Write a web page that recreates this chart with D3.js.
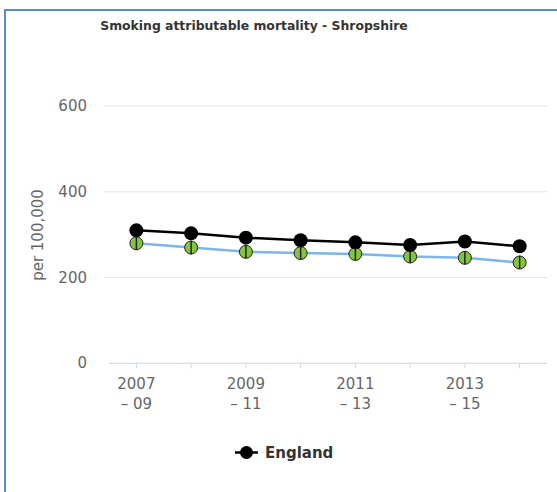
<!DOCTYPE html>
<html>
<head>
<meta charset="utf-8">
<script src="https://cdn.jsdelivr.net/npm/d3@7"></script>
<style>
  body { margin: 0; background: #fff; }
  svg text { font-family: "DejaVu Sans", sans-serif; }
</style>
</head>
<body>
<div id="chart"></div>
<script>
let w = 557;
let h = 492;

let periods = ['2007 – 09', '2008 – 10', '2009 – 11', '2010 – 12', '2011 – 13', '2012 – 14', '2013 – 15', '2014 – 16'];
let england = [310, 303, 293, 287, 282, 276, 284, 273];
let shropshire = [280, 270, 260, 257, 255, 249, 246, 235];
let shropLower = [264, 254, 245, 242, 240, 234, 231, 220];
let shropUpper = [296, 286, 276, 273, 271, 265, 262, 251];
let yTicks = [0, 200, 400, 600];

let svg = d3.select('#chart').
append('svg').
attr('width', w).
attr('height', h);

// outer box edges (top and left only are visible)
svg.append('line').attr('x1', 5).attr('x2', w).attr('y1', 10).attr('y2', 10).
style('stroke', '#5b8bd1').style('stroke-width', 2);
svg.append('line').attr('x1', 5).attr('x2', 5).attr('y1', 9).attr('y2', h).
style('stroke', '#5b8bd1').style('stroke-width', 2);

let x = d3.scaleBand().domain(periods).range([109, 547]);
let y = d3.scaleLinear().domain([0, 600]).range([363.3, 106]);

svg.append('text').
attr('x', 254).
attr('y', 30).
attr('text-anchor', 'middle').
style('font-size', '12.4px').
style('font-weight', 'bold').
style('fill', '#333').
text('Smoking attributable mortality - Shropshire');

// grid
svg.selectAll('.grid').
data(yTicks.filter(d => d > 0)).
join('line').
attr('class', 'grid').
attr('x1', 103).
attr('x2', 547).
attr('y1', d => y(d)).
attr('y2', d => y(d)).
style('stroke', '#e6e6e6').
style('stroke-width', 1);

// x axis line and ticks
svg.append('line').attr('x1', 109).attr('x2', 547).attr('y1', y(0)).attr('y2', y(0)).
style('stroke', '#ccd6eb').style('stroke-width', 1);
svg.selectAll('.xtick').
data(periods).
join('line').
attr('class', 'xtick').
attr('x1', d => x(d) + x.bandwidth() / 2).
attr('x2', d => x(d) + x.bandwidth() / 2).
attr('y1', y(0)).
attr('y2', y(0) + 5).
style('stroke', '#ccd6eb');

svg.selectAll('.ylab').
data(yTicks).
join('text').
attr('class', 'ylab').
attr('x', 87).
attr('y', d => y(d) + 5).
attr('text-anchor', 'end').
style('font-size', '15px').
style('fill', '#666').
text(d => d);

svg.append('text').
attr('transform', 'translate(43,235) rotate(-90)').
attr('text-anchor', 'middle').
style('font-size', '15px').
style('fill', '#666').
text('per 100,000');

let xl = svg.selectAll('.xlab').
data(periods.filter((d, i) => i % 2 === 0)).
join('text').
attr('class', 'xlab').
attr('text-anchor', 'middle').
style('font-size', '15px').
style('fill', '#666');
xl.append('tspan').
attr('x', d => x(d) + x.bandwidth() / 2).
attr('y', 389).
text(d => d.split(' – ')[0]);
xl.append('tspan').
attr('x', d => x(d) + x.bandwidth() / 2).
attr('y', 409).
text(d => '– ' + d.split(' – ')[1]);

let cx = (d, i) => x(periods[i]) + x.bandwidth() / 2;

let line = d3.line().
x((d, i) => x(periods[i]) + x.bandwidth() / 2).
y(d => y(d));

// Shropshire
svg.append('path').
datum(shropshire).
attr('d', line).
style('fill', 'none').
style('stroke', '#7cb5ec').
style('stroke-width', 2.5);

svg.selectAll('.shrop').
data(shropshire).
join('circle').
attr('class', 'shrop').
attr('cx', cx).
attr('cy', d => y(d)).
attr('r', 6.5).
style('fill', '#84c440').
style('stroke', '#222').
style('stroke-width', 1);

svg.selectAll('.err').
data(shropshire).
join('line').
attr('class', 'err').
attr('x1', cx).
attr('x2', cx).
attr('y1', (d, i) => y(shropUpper[i])).
attr('y2', (d, i) => y(shropLower[i])).
style('stroke', '#222').
style('stroke-width', 1.5);

// England
svg.append('path').
datum(england).
attr('d', line).
style('fill', 'none').
style('stroke', '#000').
style('stroke-width', 2.5);

svg.selectAll('.eng').
data(england).
join('circle').
attr('class', 'eng').
attr('cx', cx).
attr('cy', d => y(d)).
attr('r', 7).
style('fill', '#000');

// legend
svg.append('line').attr('x1', 235).attr('x2', 258).attr('y1', 452.5).attr('y2', 452.5).
style('stroke', '#000').style('stroke-width', 2.5);
svg.append('circle').attr('cx', 246.5).attr('cy', 452.5).attr('r', 6.5).style('fill', '#000');
svg.append('text').
attr('x', 265).
attr('y', 458).
style('font-size', '15px').
style('font-weight', 'bold').
style('fill', '#333').
text('England');
</script>
</body>
</html>
